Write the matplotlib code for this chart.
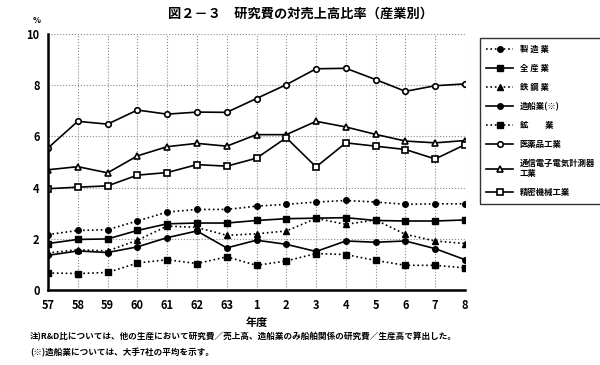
import matplotlib.pyplot as plt
import numpy as np

plt.rcParams['font.family'] = ['Noto Sans CJK JP', 'DejaVu Sans']

# 年度 (昭和57〜平成8)
years = ['57', '58', '59', '60', '61', '62', '63', '1', '2', '3', '4', '5', '6', '7', '8']

seizo   = [2.17, 2.33, 2.36, 2.70, 3.05, 3.15, 3.15, 3.28, 3.35, 3.44, 3.50, 3.44, 3.35, 3.37, 3.37]
zensan  = [1.82, 1.98, 2.00, 2.33, 2.59, 2.62, 2.62, 2.72, 2.79, 2.81, 2.83, 2.72, 2.70, 2.70, 2.74]
tekko   = [1.45, 1.58, 1.53, 1.95, 2.50, 2.45, 2.14, 2.20, 2.31, 2.80, 2.57, 2.74, 2.18, 1.92, 1.82]
zosen   = [1.36, 1.53, 1.47, 1.69, 2.05, 2.31, 1.65, 1.95, 1.79, 1.51, 1.92, 1.87, 1.92, 1.62, 1.19]
kogyo   = [0.67, 0.65, 0.69, 1.06, 1.19, 1.04, 1.30, 0.97, 1.14, 1.43, 1.39, 1.16, 0.97, 0.97, 0.87]
iyaku   = [5.55, 6.59, 6.48, 7.03, 6.87, 6.95, 6.94, 7.48, 8.02, 8.64, 8.66, 8.22, 7.76, 7.98, 8.05]
tsushin = [4.70, 4.82, 4.58, 5.24, 5.60, 5.73, 5.62, 6.07, 6.07, 6.59, 6.37, 6.08, 5.82, 5.75, 5.84]
seimitsu = [3.96, 4.02, 4.07, 4.49, 4.59, 4.90, 4.84, 5.15, 5.95, 4.81, 5.75, 5.62, 5.49, 5.12, 5.68]

labels = ['製 造 業', '全 産 業', '鉄 鋼 業', '造船業(※)', '鉱　　業',
          '医薬品工業', '通信電子電気計測器\n工業', '精密機械工業']

fig = plt.figure(figsize=(6.0, 3.65), dpi=100)
ax = fig.add_axes([0.08, 0.205, 0.695, 0.702])

x = np.arange(len(years))
k = dict(color='black', lw=1.2, ms=4)
ax.plot(x, seizo, ':', marker='o', label=labels[0], **k)
ax.plot(x, zensan, '-', marker='s', label=labels[1], **k)
ax.plot(x, tekko, ':', marker='^', label=labels[2], **k)
ax.plot(x, zosen, '-', marker='o', label=labels[3], **k)
ax.plot(x, kogyo, ':', marker='s', label=labels[4], **k)
ax.plot(x, iyaku, '-', marker='o', mfc='white', mew=1.2, label=labels[5], **k)
ax.plot(x, tsushin, '-', marker='^', mfc='white', mew=1.2, label=labels[6], **k)
ax.plot(x, seimitsu, '-', marker='s', mfc='white', mew=1.2, label=labels[7], **k)

ax.set_xlim(0, len(years) - 1)
ax.set_ylim(0, 10)
ax.set_xticks(x)
ax.set_xticklabels(years, fontsize=8, fontweight='bold')
ax.set_yticks([0, 2, 4, 6, 8, 10])
ax.set_yticklabels(['0', '2', '4', '6', '8', '10'], fontsize=8, fontweight='bold')
ax.tick_params(length=0, pad=6)
ax.grid(True, ls=':', color='#888888', lw=0.8)
for s in ['top', 'right']:
    ax.spines[s].set_visible(False)
ax.spines['left'].set_linewidth(1.8)
ax.spines['bottom'].set_linewidth(1.8)
ax.set_xlabel('年度', fontsize=8, fontweight='bold', labelpad=3)

leg = ax.legend(loc='upper left', bbox_to_anchor=(1.025, 1.0), fontsize=6,
                frameon=True, fancybox=False, edgecolor='black', handlelength=3.2,
                labelspacing=1.2, borderpad=0.8, prop={'weight': 'bold', 'size': 6})
leg.get_frame().set_linewidth(1.0)

fig.text(0.5, 0.962, '図２－３　研究費の対売上高比率（産業別）', ha='center', va='center',
         fontsize=9.5, fontweight='bold')
fig.text(0.062, 0.943, '%', ha='center', va='center', fontsize=6, fontweight='bold')
fig.text(0.05, 0.077, '注)R&D比については、他の生産において研究費／売上高、造船業のみ船舶関係の研究費／生産高で算出した。',
         ha='left', va='center', fontsize=6.2, fontweight='bold')
fig.text(0.05, 0.035, '(※)造船業については、大手7社の平均を示す。',
         ha='left', va='center', fontsize=6.2, fontweight='bold')

fig.savefig('out.png', dpi=100)
